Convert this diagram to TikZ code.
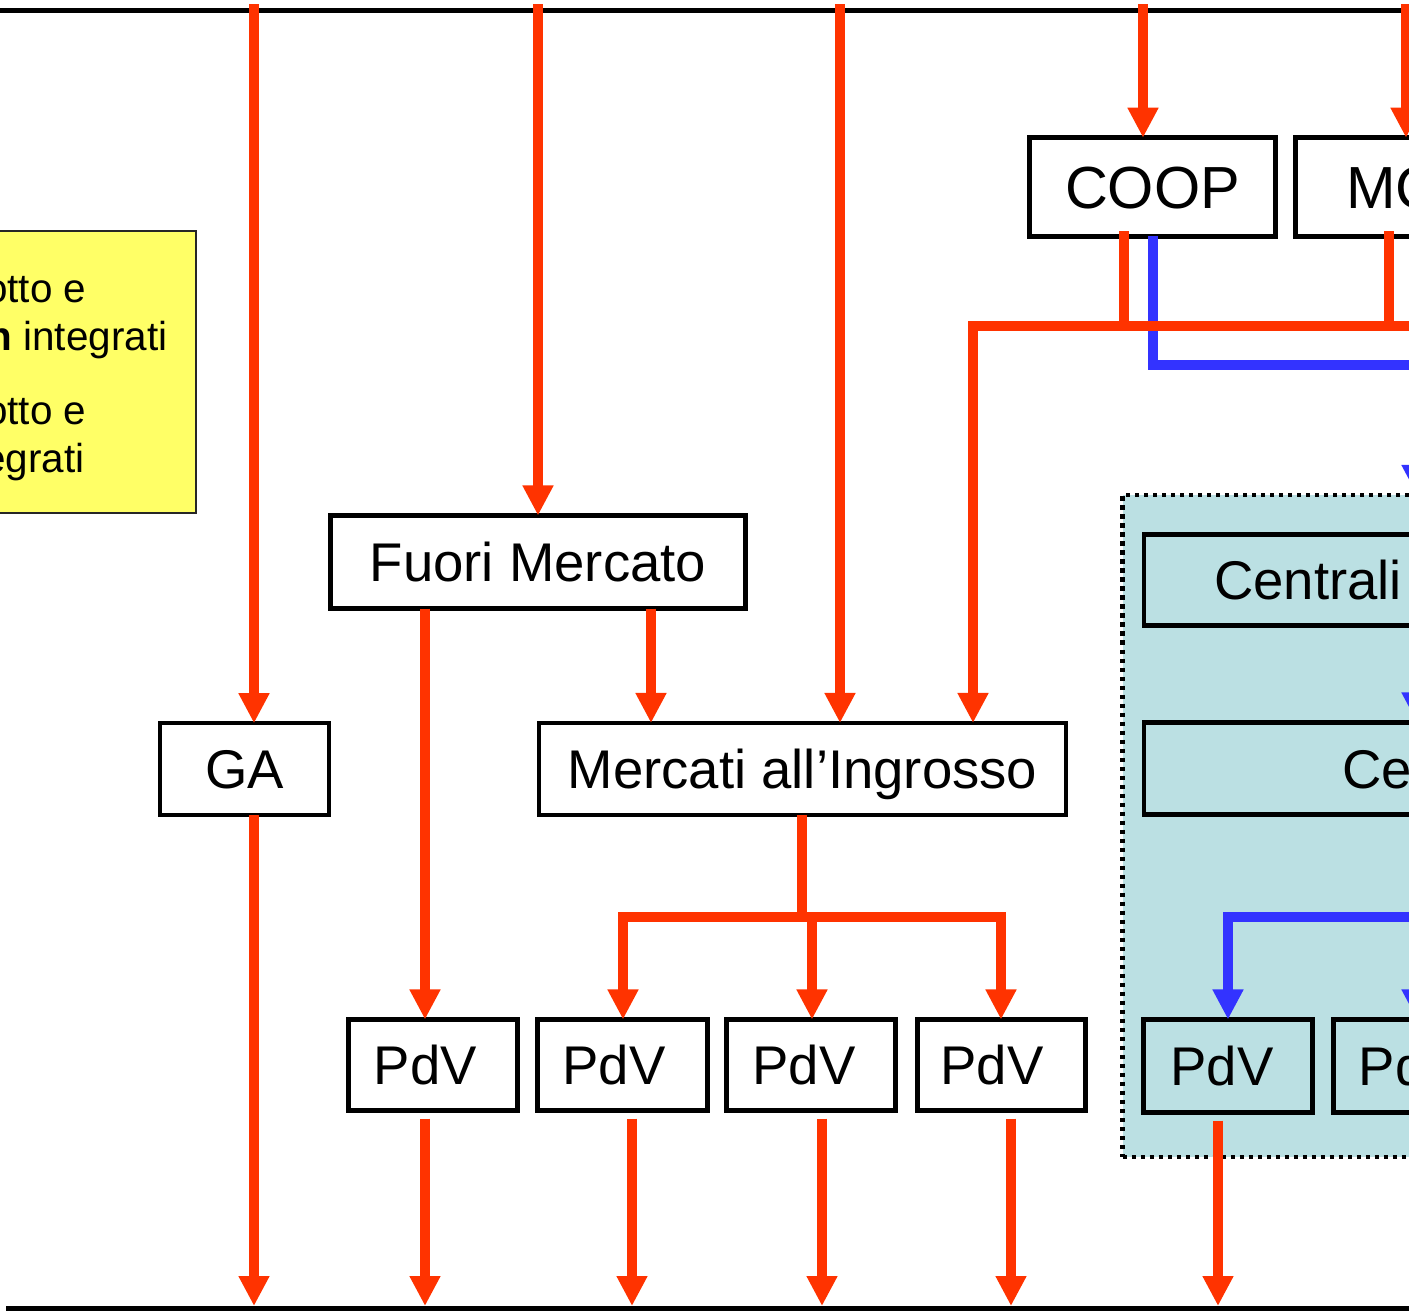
\documentclass[tikz,border=0pt]{standalone}
\usepackage{fontspec}
\setmainfont{Liberation Sans}
\usetikzlibrary{arrows.meta}
\definecolor{rd}{RGB}{255,51,0}
\definecolor{bl}{RGB}{51,51,255}
\definecolor{tl}{RGB}{187,224,227}
\definecolor{yl}{RGB}{255,255,102}
\begin{document}
\begin{tikzpicture}[x=0.01cm,y=-0.01cm,
  box/.style={draw=black, line width=0.045cm, fill=white, inner sep=0pt, outer sep=0pt,
    text height=11.1pt, text depth=0pt, font=\fontsize{15.5}{18}\selectfont},
  bigbox/.style={box, text height=12.1pt, font=\fontsize{16.9}{20}\selectfont},
  tbox/.style={box, fill=tl},
  pbox/.style={box, minimum width=1.69cm, minimum height=0.91cm},
  grpbox/.style={draw=black, line width=0.045cm, dash pattern=on 0.045cm off 0.045cm,
    fill=tl, inner sep=0pt, outer sep=0pt, anchor=north west},
  legbox/.style={draw=black!85, line width=0.025cm, fill=yl, inner sep=0pt, outer sep=0pt},
  ytxt/.style={anchor=base east, inner sep=0pt, font=\fontsize{11.5}{14}\selectfont},
  ra/.style={draw=rd, line width=0.1cm, -{Triangle[width=0.29cm,length=0.30cm]}},
  rl/.style={draw=rd, line width=0.1cm},
  ba/.style={draw=bl, line width=0.1cm, -{Triangle[width=0.29cm,length=0.30cm]}}
]
\useasboundingbox (0,0) rectangle (1409,1311);
\clip (0,0) rectangle (1409,1311);

% frame lines
\draw[line width=0.05cm] (-10,10) -- (1420,10);
\draw[line width=0.05cm] (6,1308) -- (1420,1308);

% coordinates on top and bottom lines
\coordinate (t254) at (254,4);
\coordinate (t538) at (538,4);
\coordinate (t840) at (840,4);
\coordinate (t1143) at (1143,4);
\coordinate (t1406) at (1406,4);
\coordinate (b254) at (254,1306);
\coordinate (b425) at (425,1306);
\coordinate (b632) at (632,1306);
\coordinate (b822) at (822,1306);
\coordinate (b1011) at (1011,1306);
\coordinate (b1218) at (1218,1306);

% legend
\node[legbox, minimum width=2.92cm, minimum height=2.82cm] (leg) at (50,372) {};
\node[ytxt] (l1) at (87,302) {otto e};
\node[ytxt] (l2) at (168,350) {\textbf{n} integrati};
\node[ytxt] (l3) at (87,424) {otto e};
\node[ytxt] (l4) at (85,472) {egrati};

% teal group
\node[grpbox, minimum width=6cm, minimum height=6.615cm] (grp) at (1122.5,495) {};

% boxes
\node[box, minimum width=1.69cm, minimum height=0.915cm] (ga) at (244.5,769) {GA};
\node[box, minimum width=4.15cm, minimum height=0.93cm] (fm) at (538,562) {Fuori Mercato};
\node[box, minimum width=5.27cm, minimum height=0.92cm] (mi) at (802.5,769) {Mercati all’Ingrosso};
\node[pbox, minimum width=1.685cm] (pdv1) at (433,1065) {\hspace*{-0.15cm}PdV};
\node[pbox, minimum width=1.70cm] (pdv2) at (622.5,1065) {\hspace*{-0.17cm}PdV};
\node[pbox, minimum width=1.69cm] (pdv3) at (811,1065) {\hspace*{-0.14cm}PdV};
\node[pbox, minimum width=1.68cm] (pdv4) at (1001.5,1065) {\hspace*{-0.19cm}PdV};
\node[bigbox, minimum width=2.46cm, minimum height=0.985cm] (coop) at (1152.5,187) {COOP};
\node[bigbox, anchor=west, inner xsep=0.505cm, text width=2cm, align=left, minimum height=0.985cm] (mc) at (1295.5,187) {MC};
\node[tbox, anchor=west, inner xsep=0.70cm, text width=3cm, align=left, minimum height=0.91cm] (cen) at (1144,580) {Centrali};
\node[tbox, anchor=west, inner xsep=1.98cm, text width=1cm, align=left, minimum height=0.92cm] (ce) at (1144,768.5) {Ce};
\node[tbox, minimum width=1.685cm, minimum height=0.93cm] (tpdv) at (1228,1066) {\hspace*{-0.12cm}PdV};
\node[tbox, anchor=west, inner xsep=0.252cm, text width=2cm, align=left, minimum height=0.93cm] (po) at (1333.5,1066) {PdV};

% blue connectors
\draw[ba] (1153,0 |- coop.south) -- (1153,365) -- (1417,365) -- (1417,0 |- grp.north);
\draw[ba] (1417,0 |- cen.south) -- (1417,0 |- ce.north);
\draw[ba] (1500,0 |- ce.south) |- (1228,917) -- (tpdv.north);
\draw[ba] (1417,917) -- (1417,0 |- po.north);

% red connectors from top
\draw[ra] (t254) -- (t254 |- ga.north);
\draw[ra] (t538) -- (fm.north);
\draw[ra] (t840) -- (t840 |- mi.north);
\draw[ra] (t1143) -- (t1143 |- coop.north);
\draw[ra] (t1406) -- (t1406 |- mc.north);

% COOP / MC bus
\draw[rl] (1124,231) -- (1124,326);
\draw[rl] (1389,231) -- (1389,326);
\draw[ra] (1420,326) -- (973,326) -- (973,0 |- mi.north);

% Fuori Mercato
\draw[ra] (425,0 |- fm.south) -- (pdv1.north -| b425);
\draw[ra] (651,0 |- fm.south) -- (651,0 |- mi.north);

% Mercati distribution
\coordinate (j) at (802,917);
\draw[rl] (mi.south -| j) -- (j);
\draw[ra] (j) -| (pdv2.north -| 623,0);
\draw[ra] (j) -| (pdv4.north -| 1001,0);
\draw[ra] (812,917) -- (pdv3.north -| 812,0);

% to bottom line
\draw[ra] (b254 |- ga.south) -- (b254);
\draw[ra, shorten <=0.08cm] (b425 |- pdv1.south) -- (b425);
\draw[ra, shorten <=0.08cm] (b632 |- pdv2.south) -- (b632);
\draw[ra, shorten <=0.08cm] (b822 |- pdv3.south) -- (b822);
\draw[ra, shorten <=0.08cm] (b1011 |- pdv4.south) -- (b1011);
\draw[ra, shorten <=0.08cm] (b1218 |- tpdv.south) -- (b1218);
\end{tikzpicture}
\end{document}
